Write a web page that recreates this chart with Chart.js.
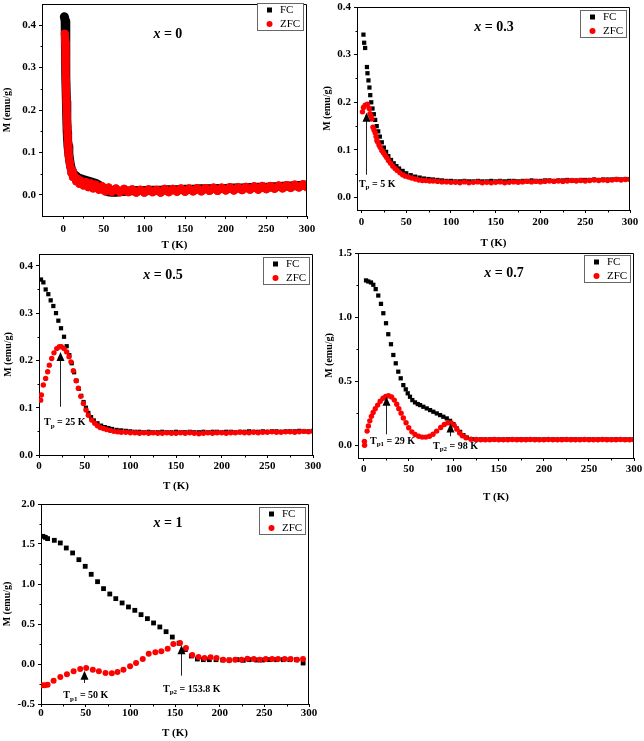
<!DOCTYPE html>
<html>
<head>
<meta charset="utf-8">
<script src="https://cdn.jsdelivr.net/npm/chart.js@4"></script>
<style>
  body { margin: 0; background: #fff; width: 644px; height: 741px; position: relative; overflow: hidden; }
  .panel { position: absolute; }
</style>
</head>
<body>
<script>
// ---- axis ticks shared by the panels ----
const xTicks = [0, 50, 100, 150, 200, 250, 300];
const xMinor = [25, 75, 125, 175, 225, 275];

// ---- x = 0 ----
const tFC0 = [1.5, 2, 2.5, 3, 3.5, 4, 4.5, 5, 5.5, 6,
  7, 8, 9, 10, 12, 14, 16, 18, 20, 23,
  26, 30, 35, 40, 45, 50, 55, 60, 65, 70,
  80, 90, 100, 110, 120, 130, 140, 150, 160, 170,
  180, 190, 200, 210, 220, 230, 240, 250, 260, 270,
  280, 290, 300];
const mFC0 = [0.42, 0.42, 0.41, 0.36, 0.28, 0.22, 0.18, 0.148, 0.13, 0.115,
  0.097, 0.082, 0.07, 0.062, 0.052, 0.047, 0.044, 0.041, 0.039, 0.037,
  0.035, 0.033, 0.03, 0.027, 0.022, 0.012, 0.007, 0.006, 0.006, 0.007,
  0.009, 0.01, 0.01, 0.011, 0.011, 0.012, 0.012, 0.013, 0.013, 0.014,
  0.014, 0.015, 0.015, 0.016, 0.016, 0.017, 0.018, 0.018, 0.019, 0.02,
  0.021, 0.022, 0.023];
const tZFC0 = [2, 2.5, 3, 3.5, 4, 4.5, 5, 5.5, 6, 6.5,
  7, 8, 9, 10, 11, 12, 14, 16, 18, 20,
  22, 25, 28, 31, 34, 37, 40, 44, 48, 52,
  56, 60, 65, 70, 75, 80, 85, 90, 95, 100,
  105, 110, 115, 120, 125, 130, 135, 140, 145, 150,
  155, 160, 165, 170, 175, 180, 185, 190, 195, 200,
  205, 210, 215, 220, 225, 230, 235, 240, 245, 250,
  255, 260, 265, 270, 275, 280, 285, 290, 295, 300];
const mZFC0 = [0.38, 0.36, 0.32, 0.27, 0.22, 0.19, 0.16, 0.14, 0.12, 0.105,
  0.092, 0.078, 0.066, 0.052, 0.056, 0.042, 0.044, 0.032, 0.038, 0.026,
  0.033, 0.022, 0.03, 0.018, 0.027, 0.015, 0.024, 0.012, 0.02, 0.008,
  0.017, 0.007, 0.015, 0.006, 0.014, 0.006, 0.013, 0.005, 0.012, 0.005,
  0.013, 0.006, 0.012, 0.005, 0.014, 0.006, 0.014, 0.007, 0.015, 0.007,
  0.015, 0.008, 0.016, 0.008, 0.016, 0.009, 0.017, 0.009, 0.017, 0.01,
  0.018, 0.01, 0.018, 0.011, 0.019, 0.012, 0.02, 0.012, 0.021, 0.013,
  0.021, 0.014, 0.022, 0.015, 0.023, 0.016, 0.024, 0.017, 0.025, 0.018];

// ---- x = 0.3 ----
const tFC3 = [2.2, 3, 4.1, 6.1, 6.7, 7.8, 8.9, 9.8, 10.9, 12.3,
  13.8, 15.3, 17, 18.7, 20.5, 22.7, 25, 27.5, 30, 33,
  36, 39, 42, 46, 50, 55, 60, 65, 70, 75,
  80, 85, 90, 95, 100, 105, 110, 115, 120, 125,
  130, 135, 140, 145, 150, 155, 160, 165, 170, 175,
  180, 185, 190, 195, 200, 205, 210, 215, 220, 225,
  230, 235, 240, 245, 250, 255, 260, 265, 270, 275,
  280, 285, 290, 295, 300];
const mFC3 = [0.342, 0.325, 0.314, 0.274, 0.261, 0.246, 0.231, 0.215, 0.2, 0.187,
  0.175, 0.163, 0.15, 0.139, 0.128, 0.116, 0.105, 0.096, 0.087, 0.079,
  0.072, 0.066, 0.061, 0.056, 0.051, 0.047, 0.044, 0.042, 0.04, 0.039,
  0.038, 0.037, 0.036, 0.035, 0.035, 0.034, 0.034, 0.035, 0.034, 0.034,
  0.035, 0.034, 0.034, 0.035, 0.034, 0.035, 0.034, 0.035, 0.035, 0.034,
  0.035, 0.035, 0.036, 0.035, 0.035, 0.036, 0.036, 0.035, 0.036, 0.036,
  0.037, 0.036, 0.036, 0.037, 0.037, 0.037, 0.038, 0.037, 0.038, 0.038,
  0.038, 0.039, 0.038, 0.039, 0.039];
const tZFC3 = [1.1, 2.2, 4.1, 6.7, 8.6, 9.5, 10.5, 11.6, 12.8, 14,
  15.3, 16.3, 17.2, 18.3, 19.7, 21, 22.7, 24.5, 26.4, 28.2,
  30.1, 32.5, 35, 37.5, 40, 43, 46, 49, 52.5, 56,
  60, 64, 68, 72, 76, 80, 85, 90, 95, 100,
  105, 110, 115, 120, 125, 130, 135, 140, 145, 150,
  155, 160, 165, 170, 175, 180, 185, 190, 195, 200,
  205, 210, 215, 220, 225, 230, 235, 240, 245, 250,
  255, 260, 265, 270, 275, 280, 285, 290, 295, 300];
const mZFC3 = [0.18, 0.189, 0.194, 0.196, 0.187, 0.176, 0.172, 0.165, 0.148, 0.142,
  0.136, 0.128, 0.12, 0.116, 0.11, 0.105, 0.099, 0.094, 0.089, 0.084,
  0.078, 0.072, 0.066, 0.061, 0.057, 0.052, 0.048, 0.045, 0.043, 0.041,
  0.039, 0.037, 0.036, 0.036, 0.035, 0.035, 0.034, 0.033, 0.033, 0.032,
  0.032, 0.031, 0.033, 0.031, 0.032, 0.033, 0.031, 0.032, 0.031, 0.032,
  0.033, 0.031, 0.032, 0.033, 0.032, 0.033, 0.034, 0.033, 0.034, 0.033,
  0.034, 0.035, 0.034, 0.035, 0.034, 0.035, 0.036, 0.035, 0.036, 0.035,
  0.036, 0.037, 0.036, 0.037, 0.036, 0.037, 0.038, 0.037, 0.038, 0.038];

// ---- x = 0.5 ----
const tFC5 = [2.2, 4.8, 7.3, 10.2, 12.8, 15.7, 18.6, 21.2, 24.1, 27.4,
  30.3, 33.2, 35.8, 38.4, 41, 43.6, 46.2, 48.8, 51.4, 54,
  57, 60, 64, 68, 72, 76, 80, 85, 90, 95,
  100,
  105, 110, 115, 120, 125, 130, 135, 140, 145, 150,
  155, 160, 165, 170, 175, 180, 185, 190, 195, 200,
  205, 210, 215, 220, 225, 230, 235, 240, 245, 250,
  255, 260, 265, 270, 275, 280, 285, 290, 295, 300];
const mFC5 = [0.371, 0.365, 0.35, 0.34, 0.327, 0.315, 0.3, 0.284, 0.268, 0.25,
  0.23, 0.211, 0.194, 0.175, 0.157, 0.14, 0.125, 0.112, 0.1, 0.089,
  0.08, 0.073, 0.067, 0.062, 0.059, 0.057, 0.055, 0.053, 0.052, 0.051,
  0.05,
  0.049, 0.049, 0.048, 0.049, 0.048, 0.048, 0.049, 0.048, 0.048, 0.049,
  0.048, 0.048, 0.049, 0.048, 0.048, 0.049, 0.048, 0.049, 0.049, 0.048,
  0.049, 0.049, 0.048, 0.049, 0.049, 0.05, 0.049, 0.049, 0.05, 0.049,
  0.05, 0.05, 0.049, 0.05, 0.05, 0.05, 0.051, 0.05, 0.05, 0.051];
const tZFC5 = [1.8, 2.6, 4.7, 7.3, 9.5, 11.3, 13.9, 16.4, 19.4, 22.3,
  24.5, 27.4, 30.3, 32.9, 35, 37.6, 40.6, 43.1, 45.7, 48.6,
  51.5, 54, 57.7, 61, 64, 67, 70.5, 74, 78, 82,
  86, 90, 95, 100,
  105, 110, 115, 120, 125, 130, 135, 140, 145, 150,
  155, 160, 165, 170, 175, 180, 185, 190, 195, 200,
  205, 210, 215, 220, 225, 230, 235, 240, 245, 250,
  255, 260, 265, 270, 275, 280, 285, 290, 295, 300];
const mZFC5 = [0.116, 0.127, 0.148, 0.162, 0.176, 0.19, 0.204, 0.216, 0.225, 0.229,
  0.229, 0.225, 0.218, 0.208, 0.197, 0.178, 0.157, 0.141, 0.124, 0.109,
  0.095, 0.084, 0.074, 0.067, 0.062, 0.058, 0.056, 0.054, 0.052, 0.05,
  0.049, 0.048, 0.048, 0.047,
  0.047, 0.046, 0.047, 0.046, 0.047, 0.046, 0.046, 0.047, 0.046, 0.046,
  0.047, 0.046, 0.047, 0.046, 0.045, 0.046, 0.047, 0.046, 0.047, 0.047,
  0.046, 0.047, 0.047, 0.048, 0.047, 0.047, 0.048, 0.047, 0.048, 0.048,
  0.049, 0.048, 0.048, 0.049, 0.049, 0.048, 0.049, 0.05, 0.049, 0.05];

// ---- x = 0.7 ----
const tFC7 = [2.6, 5.1, 8.1, 10.7, 13.3, 16.2, 19.2, 21.8, 24.8, 27.3,
  30.3, 32.9, 35.6, 38.4, 41.1, 44, 46.7, 48.9, 51.4, 54,
  57, 60, 62.6, 66.2, 70, 73.7, 77.3, 81.1, 84.8, 88.4,
  92.2, 95.9, 99.6, 103.3, 107, 110.7, 114.4, 120, 125, 130,
  135, 140, 145, 150, 155, 160, 165, 170, 175, 180,
  185, 190, 195, 200, 205, 210, 215, 220, 225, 230,
  235, 240, 245, 250, 255, 260, 265, 270, 275, 280,
  285, 290, 295, 300];
const mFC7 = [1.286, 1.278, 1.27, 1.252, 1.218, 1.168, 1.103, 1.03, 0.952, 0.866,
  0.788, 0.704, 0.639, 0.574, 0.522, 0.469, 0.436, 0.405, 0.378, 0.352,
  0.334, 0.321, 0.313, 0.3, 0.287, 0.274, 0.261, 0.248, 0.235, 0.222,
  0.209, 0.19, 0.164, 0.131, 0.104, 0.078, 0.06, 0.047, 0.045, 0.045,
  0.045, 0.045, 0.046, 0.045, 0.045, 0.046, 0.045, 0.045, 0.046, 0.045,
  0.045, 0.046, 0.045, 0.045, 0.046, 0.045, 0.045, 0.046, 0.045, 0.045,
  0.046, 0.045, 0.045, 0.046, 0.045, 0.045, 0.046, 0.045, 0.045, 0.046,
  0.045, 0.045, 0.046, 0.045];
const tZFC7 = [0.8, 1.0, 3.8, 5.2, 6.8, 8.6, 10.5, 12.8, 15.5, 18.3,
  21.5, 24.5, 27.5, 31, 34, 36.7, 39, 41.5, 44, 47,
  50, 53.5, 57, 61, 65, 69, 73, 77, 81, 85.5,
  89.5, 93.5, 97, 100.5, 103.5, 106.5, 109.5, 113.5, 119, 125,
  130,
  135, 140, 145, 150, 155, 160, 165, 170, 175, 180,
  185, 190, 195, 200, 205, 210, 215, 220, 225, 230,
  235, 240, 245, 250, 255, 260, 265, 270, 275, 280,
  285, 290, 295, 300];
const mZFC7 = [0.03, 0.0, 0.11, 0.15, 0.19, 0.225, 0.255, 0.285, 0.313, 0.343,
  0.366, 0.38, 0.386, 0.376, 0.352, 0.32, 0.285, 0.25, 0.212, 0.175,
  0.136, 0.104, 0.083, 0.07, 0.063, 0.063, 0.07, 0.085, 0.11, 0.138,
  0.162, 0.175, 0.173, 0.155, 0.125, 0.095, 0.074, 0.058, 0.047, 0.044,
  0.043,
  0.043, 0.042, 0.044, 0.042, 0.043, 0.042, 0.044, 0.042, 0.043, 0.042,
  0.044, 0.042, 0.043, 0.042, 0.044, 0.042, 0.043, 0.042, 0.044, 0.042,
  0.043, 0.042, 0.044, 0.042, 0.043, 0.042, 0.044, 0.042, 0.043, 0.042,
  0.044, 0.042, 0.043, 0.042];

// ---- x = 1 ----
const tFC1 = [2.2, 4.8, 7.4, 14.9, 21.6, 28.3, 35.4, 42.4, 49.5, 56.2,
  63.3, 70, 77, 83.7, 90.8, 97.9, 105, 112, 119.1, 126,
  133, 140, 147, 154.5, 161.6, 168.3, 175, 181.7, 188.4, 195.9,
  203.4, 210.7, 219, 226.4, 233.1, 241.3, 248, 255.4, 263.7, 271.1,
  278.5, 286, 293.4];
const mFC1 = [1.596, 1.583, 1.567, 1.546, 1.513, 1.45, 1.388, 1.304, 1.221, 1.121,
  1.029, 0.942, 0.875, 0.817, 0.763, 0.713, 0.671, 0.617, 0.567, 0.513,
  0.463, 0.404, 0.337, 0.26, 0.18, 0.1, 0.062, 0.054, 0.054, 0.054,
  0.05, 0.05, 0.054, 0.046, 0.054, 0.05, 0.05, 0.054, 0.054, 0.054,
  0.054, 0.054, 0.012];
const tZFC1 = [1.1, 4.1, 7.4, 14.1, 21.6, 29, 36.5, 43.9, 50.6, 58,
  64.8, 72.2, 79.3, 85.6, 92.3, 99.7, 106.4, 113.9, 120.6, 128,
  134.7, 141.8, 148.1, 155.6, 162.3, 169.3, 176.4, 183.1, 189.8, 196.5,
  204, 210.6, 217.3, 224.4, 231.1, 238.2, 244.9, 251.6, 258.7, 265.4,
  272.8, 279.5, 286.6, 293.3];
const mZFC1 = [-0.267, -0.267, -0.258, -0.208, -0.163, -0.129, -0.092, -0.063, -0.05, -0.071,
  -0.092, -0.113, -0.117, -0.1, -0.071, -0.029, 0.013, 0.063, 0.129, 0.146,
  0.158, 0.192, 0.25, 0.263, 0.2, 0.113, 0.088, 0.075, 0.083, 0.075,
  0.054, 0.046, 0.054, 0.054, 0.067, 0.063, 0.054, 0.063, 0.063, 0.063,
  0.063, 0.063, 0.054, 0.063];

const SERIF = '"Liberation Serif", "Times New Roman", serif';
const RED = '#ff0000';

function pts(t, m) {
  return t.map((v, i) => ({ x: v, y: m[i] }));
}

// box = page rect of the canvas, area = page rect of the plot frame
const panels = [
  { tag: '0', box: [0, 0, 322, 256], area: [42, 2, 307, 216],
    x: [-26, 300], y: [-0.05, 0.45], yTicks: [0, 0.1, 0.2, 0.3, 0.4], yMinor: [0.05, 0.15, 0.25, 0.35],
    fc: [tFC0, mFC0], zfc: [tZFC0, mZFC0], band: true,
    xTitleY: 245, yTitleX: 7, xPad: 3.5, tagAt: [0.475, 0.145], legendDy: -1, arrows: [] },
  { tag: '0.3', box: [322, 0, 322, 252], area: [357, 7, 630, 210],
    x: [-5, 300], y: [-0.026, 0.4], yTicks: [0, 0.1, 0.2, 0.3, 0.4], yMinor: [0.05, 0.15, 0.25, 0.35],
    fc: [tFC3, mFC3], zfc: [tZFC3, mZFC3],
    xTitleY: 243, yTitleX: 327, xPad: 3, tagAt: [0.502, 0.0985], legendDy: 3,
    arrows: [{ t: 4.5, from: 0.048, to: 0.178, sub: 'p', text: ' = 5 K', lt: -2.9, lm: 0.03 }] },
  { tag: '0.5', box: [0, 250, 322, 245], area: [39, 254, 313, 455],
    x: [0, 300], y: [0, 0.425], yTicks: [0, 0.1, 0.2, 0.3, 0.4], yMinor: [0.05, 0.15, 0.25, 0.35],
    fc: [tFC5, mFC5], zfc: [tZFC5, mZFC5],
    xTitleY: 486, yTitleX: 8, xPad: 2, tagAt: [0.4526, 0.104], legendDy: 3,
    arrows: [{ t: 23, from: 0.102, to: 0.218, sub: 'p', text: ' = 25 K', lt: 5.5, lm: 0.07 }] },
  { tag: '0.7', box: [322, 248, 322, 255], area: [358, 253, 634, 458],
    x: [-6.3, 300], y: [-0.1, 1.5], yTicks: [0, 0.5, 1, 1.5], yMinor: [0.25, 0.75, 1.25],
    fc: [tFC7, mFC7], zfc: [tZFC7, mZFC7],
    xTitleY: 497, yTitleX: 329, xPad: 1.5, tagAt: [0.529, 0.0976], legendDy: 2,
    arrows: [{ t: 25.2, from: 0.085, to: 0.378, sub: 'p1', text: ' = 29 K', lt: 7, lm: 0.039 },
             { t: 95.6, from: 0.07, to: 0.17, sub: 'p2', text: ' = 98 K', lt: 77, lm: 0.0 }] },
  { tag: '1', box: [0, 498, 322, 243], area: [41, 504, 309, 704],
    x: [0, 300], y: [-0.5, 2.0], yTicks: [-0.5, 0, 0.5, 1, 1.5, 2], yMinor: [-0.25, 0.25, 0.75, 1.25, 1.75],
    fc: [tFC1, mFC1], zfc: [tZFC1, mZFC1], big: true,
    xTitleY: 733, yTitleX: 7, xPad: 0, tagAt: [0.474, 0.095], legendDy: 3,
    arrows: [{ t: 47.6, from: -0.2375, to: -0.083, sub: 'p1', text: ' = 50 K', lt: 25, lm: -0.384 },
             { t: 156.7, from: -0.146, to: 0.233, sub: 'p2', text: ' = 153.8 K', lt: 136.6, lm: -0.3 }] }
];

function subLabel(ctx, x0, y0, sub, text) {
  const base = y0 + 3.5;
  ctx.textBaseline = 'alphabetic';
  ctx.textAlign = 'left';
  ctx.fillStyle = '#000';
  ctx.font = `bold 10px ${SERIF}`;
  ctx.fillText('T', x0, base);
  let x = x0 + ctx.measureText('T').width;
  ctx.font = `bold 7px ${SERIF}`;
  ctx.fillText(sub, x, base + 2.5);
  x += ctx.measureText(sub).width;
  ctx.font = `bold 10px ${SERIF}`;
  ctx.fillText(text, x, base);
}

function decor(p) {
  return {
    id: 'decor',
    afterDraw(chart) {
      const { ctx, chartArea: a, scales: { x, y } } = chart;
      const l = Math.round(a.left) + 0.5, t = Math.round(a.top) + 0.5;
      const r = Math.round(a.right) - 0.5, b = Math.round(a.bottom) + 0.5;
      ctx.save();
      ctx.strokeStyle = '#000';
      ctx.lineWidth = 1;
      ctx.beginPath();
      ctx.moveTo(l, t); ctx.lineTo(r, t); ctx.lineTo(r, b);
      xMinor.forEach(v => {
        const px = Math.round(x.getPixelForValue(v)) + 0.5;
        ctx.moveTo(px, b); ctx.lineTo(px, b + 2);
      });
      p.yMinor.forEach(v => {
        const py = Math.round(y.getPixelForValue(v)) + 0.5;
        ctx.moveTo(l, py); ctx.lineTo(l - 2, py);
      });
      ctx.stroke();

      // composition tag, "x = ..."
      const cx = a.left + p.tagAt[0] * (a.right - a.left);
      const cy = a.top + p.tagAt[1] * (a.bottom - a.top);
      ctx.fillStyle = '#000';
      ctx.textBaseline = 'middle';
      ctx.textAlign = 'left';
      ctx.font = `italic bold 14px ${SERIF}`;
      const w1 = ctx.measureText('x').width;
      const rest = ' = ' + p.tag;
      ctx.font = `bold 14px ${SERIF}`;
      const w2 = ctx.measureText(rest).width;
      const sx = cx - (w1 + w2) / 2;
      ctx.font = `italic bold 14px ${SERIF}`;
      ctx.fillText('x', sx, cy);
      ctx.font = `bold 14px ${SERIF}`;
      ctx.fillText(rest, sx + w1, cy);

      // peak arrows
      p.arrows.forEach(ar => {
        const px = Math.round(x.getPixelForValue(ar.t)) + 0.5;
        const y0 = y.getPixelForValue(ar.from), y1 = y.getPixelForValue(ar.to);
        ctx.strokeStyle = '#222';
        ctx.lineWidth = 1;
        ctx.beginPath();
        ctx.moveTo(px, y0); ctx.lineTo(px, y1 + 8);
        ctx.stroke();
        ctx.fillStyle = '#000';
        ctx.beginPath();
        ctx.moveTo(px, y1); ctx.lineTo(px - 4, y1 + 9); ctx.lineTo(px + 4, y1 + 9);
        ctx.closePath();
        ctx.fill();
        subLabel(ctx, x.getPixelForValue(ar.lt), y.getPixelForValue(ar.lm), ar.sub, ar.text);
      });

      // legend box
      const bw = 46, bh = 27;
      const bx = Math.round(a.right - 4 - bw), by = Math.round(a.top + p.legendDy);
      ctx.fillStyle = '#fff';
      ctx.fillRect(bx, by, bw, bh);
      ctx.strokeStyle = '#666';
      ctx.strokeRect(bx + 0.5, by + 0.5, bw, bh);
      chart.data.datasets.forEach((ds, i) => {
        const ry = by + 7 + i * 14;
        if (ds.pointStyle === 'rect') {
          ctx.fillStyle = '#000';
          ctx.fillRect(bx + 10, ry - 2.5, 5, 5);
        } else {
          ctx.fillStyle = RED;
          ctx.beginPath();
          ctx.arc(bx + 12.5, ry, 3, 0, Math.PI * 2);
          ctx.fill();
        }
        ctx.fillStyle = '#000';
        ctx.font = `11px ${SERIF}`;
        ctx.textBaseline = 'middle';
        ctx.fillText(ds.label, bx + 23, ry + 0.5);
      });
      ctx.restore();
    }
  };
}

function makePanel(p) {
  const [bx, by, bw, bh] = p.box;
  const [cl, ct, cr, cb] = p.area;
  const div = document.createElement('div');
  div.className = 'panel';
  div.style.left = bx + 'px';
  div.style.top = by + 'px';
  const canvas = document.createElement('canvas');
  canvas.width = bw;
  canvas.height = bh;
  div.appendChild(canvas);
  document.body.appendChild(div);

  const band = !!p.band;
  const tickFont = { family: SERIF, size: 11, weight: 'bold' };

  new Chart(canvas, {
    type: 'scatter',
    data: {
      datasets: [
        { label: 'FC', data: pts(p.fc[0], p.fc[1]), order: 1,
          pointStyle: 'rect', pointRadius: band ? 4 : (p.big ? 3.4 : 3), pointBorderWidth: 0,
          pointBackgroundColor: '#000', backgroundColor: '#000', borderColor: '#000',
          showLine: band, borderWidth: band ? 9 : 0, borderJoinStyle: 'round', borderCapStyle: 'round' },
        { label: 'ZFC', data: pts(p.zfc[0], p.zfc[1]), order: 0,
          pointStyle: 'circle', pointRadius: band ? 4 : (p.big ? 3 : 2.7), pointBorderWidth: 0,
          pointBackgroundColor: RED, backgroundColor: RED, borderColor: RED,
          showLine: band, borderWidth: band ? 8 : 0, borderJoinStyle: 'round', borderCapStyle: 'round' }
      ]
    },
    options: {
      responsive: false,
      animation: false,
      devicePixelRatio: 1,
      events: [],
      layout: { padding: { top: ct - by, right: bx + bw - cr, left: 0, bottom: 0 } },
      plugins: { legend: { display: false }, tooltip: { enabled: false } },
      scales: {
        x: {
          type: 'linear', min: p.x[0], max: p.x[1],
          afterBuildTicks: s => { s.ticks = xTicks.map(v => ({ value: v })); },
          afterFit: s => { s.height = by + bh - cb; s.paddingLeft = 0; s.paddingRight = 0; },
          border: { display: true, color: '#000', width: 1 },
          grid: { drawOnChartArea: false, tickLength: 3, color: '#000' },
          ticks: { autoSkip: false, maxRotation: 0, padding: p.xPad, color: '#000', font: tickFont },
          title: { display: true, text: 'T (K)', color: '#000',
            font: { family: SERIF, size: 11, weight: 'bold', lineHeight: 1 },
            padding: { top: 0, bottom: by + bh - p.xTitleY - 5.5 } }
        },
        y: {
          type: 'linear', min: p.y[0], max: p.y[1],
          afterBuildTicks: s => { s.ticks = p.yTicks.map(v => ({ value: v })); },
          afterFit: s => { s.width = cl - bx; s.paddingTop = 0; s.paddingBottom = 0; },
          border: { display: true, color: '#000', width: 1 },
          grid: { drawOnChartArea: false, tickLength: 3, color: '#000' },
          ticks: { autoSkip: false, padding: 3, color: '#000', font: tickFont,
            callback: v => Number(v).toFixed(1) },
          title: { display: true, text: 'M (emu/g)', color: '#000',
            font: { family: SERIF, size: 10, weight: 'bold', lineHeight: 1 },
            padding: { top: p.yTitleX - bx - 5, bottom: 0 } }
        }
      }
    },
    plugins: [decor(p)]
  });
}

panels.forEach(makePanel);
</script>
</body>
</html>
